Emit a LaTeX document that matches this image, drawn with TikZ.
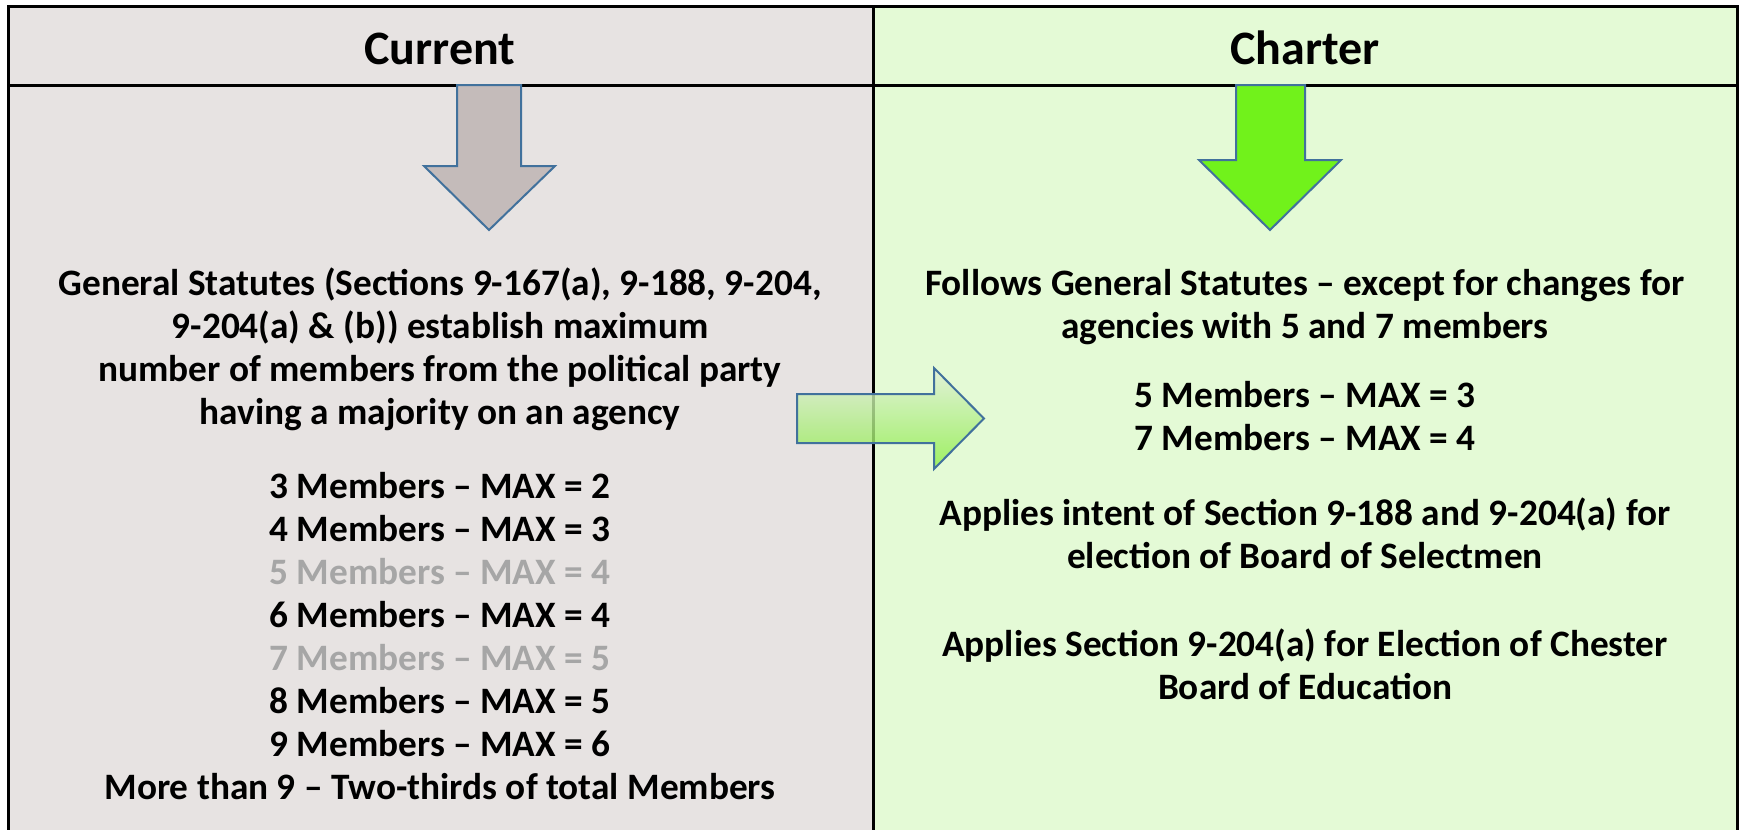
\documentclass[tikz,border=0pt]{standalone}
\usepackage{fontspec}
\setmainfont{Carlito}
\definecolor{leftbg}{HTML}{E7E3E2}
\definecolor{rightbg}{HTML}{E4FAD6}
\definecolor{grayarrow}{HTML}{C4BBBA}
\definecolor{greenarrow}{HTML}{71F21B}
\definecolor{outl}{HTML}{41719C}
\definecolor{dimtext}{HTML}{A6A6A6}
\definecolor{gradtop}{HTML}{E2EFDA}
\definecolor{gradbot}{HTML}{8CEE45}
\newcommand{\bodyfont}{\fontsize{37.3}{43}\selectfont\bfseries}
\newcommand{\headfont}{\fontsize{48}{56}\selectfont\bfseries}
\tikzset{
  rule/.style={line width=3pt, black},
  blockarrow/.style={draw=outl, line width=2pt, line join=miter},
  txt/.style={font=\bodyfont, anchor=base, inner sep=0pt},
  headtxt/.style={font=\headfont, anchor=base, inner sep=0pt},
}
\begin{document}
\begin{tikzpicture}[x=1pt,y=-1pt]
\useasboundingbox (0,0) rectangle (1741,830);
% backgrounds
\fill[leftbg] (8,6) rectangle (873,830);
\fill[rightbg] (873,6) rectangle (1737,830);
% table rules
\draw[rule] (8,830) -- (8,6) -- (1737,6) -- (1737,830);
\draw[rule] (8,85) -- (1737,85);
\draw[rule] (873,6) -- (873,830);
% headers
\node[headtxt] (hcur) at (440,64) {Current};
\node[headtxt] (hchar) at (1305,64) {Charter};
% down arrows
\draw[blockarrow, fill=grayarrow] (457,85) -- (521,85) -- (521,166) -- (555,166) -- (489,230) -- (424,166) -- (457,166) -- cycle;
\draw[blockarrow, fill=greenarrow] (1236,85) -- (1305,85) -- (1305,160) -- (1341,160) -- (1270,230) -- (1199,160) -- (1236,160) -- cycle;
% left text
\node[txt] (l1) at (440,295) {General Statutes (Sections 9-167(a), 9-188, 9-204,};
\node[txt] (l2) at (440,338) {9-204(a) \& (b)) establish maximum};
\node[txt] (l3) at (440,381) {number of members from the political party};
\node[txt] (l4) at (440,424) {having a majority on an agency};
\node[txt] (m3) at (440,498) {3 Members – MAX = 2};
\node[txt] (m4) at (440,541) {4 Members – MAX = 3};
\node[txt, text=dimtext] (m5) at (440,584) {5 Members – MAX = 4};
\node[txt] (m6) at (440,627) {6 Members – MAX = 4};
\node[txt, text=dimtext] (m7) at (440,670) {7 Members – MAX = 5};
\node[txt] (m8) at (440,713) {8 Members – MAX = 5};
\node[txt] (m9) at (440,756) {9 Members – MAX = 6};
\node[txt] (mm) at (440,799) {More than 9 – Two-thirds of total Members};
% right text
\node[txt] (r1) at (1305,295) {Follows General Statutes – except for changes for};
\node[txt] (r2) at (1305,338) {agencies with 5 and 7 members};
\node[txt] (r3) at (1305,407) {5 Members – MAX = 3};
\node[txt] (r4) at (1305,450) {7 Members – MAX = 4};
\node[txt] (r5) at (1305,525) {Applies intent of Section 9-188 and 9-204(a) for};
\node[txt] (r6) at (1305,568) {election of Board of Selectmen};
\node[txt] (r7) at (1305,656) {Applies Section 9-204(a) for Election of Chester};
\node[txt] (r8) at (1305,699) {Board of Education};
% right block arrow (semi-transparent gradient)
\shade[top color=gradtop, bottom color=gradbot, fill opacity=0.8]
  (797,394) -- (934,394) -- (934,368) -- (984,418.5) -- (934,469) -- (934,443) -- (797,443) -- cycle;
\draw[blockarrow] (797,394) -- (934,394) -- (934,368) -- (984,418.5) -- (934,469) -- (934,443) -- (797,443) -- cycle;
\end{tikzpicture}
\end{document}
